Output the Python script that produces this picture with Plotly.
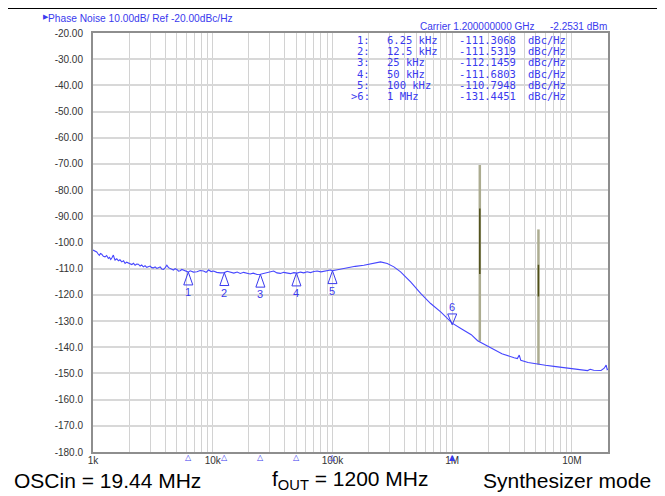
import numpy as np
import plotly.graph_objects as go

# ---------------- data ----------------
freq_hz = [1000, 1040, 1074, 1100, 1129, 1155, 1183, 1220, 1260, 1300, 1343, 1375, 1406, 1440,
           1479, 1505, 1528, 1580, 1628, 1680, 1738, 1800, 1853, 1910, 1974, 2040, 2108, 2180,
           2246, 2320, 2393, 2474, 2550, 2636, 2720, 2814, 2900, 2999, 3100, 3196, 3300, 3412,
           3520, 3637, 3750, 3876, 4000, 4137, 4270, 4410, 4550, 4699, 4850, 5017, 5180, 5346,
           5520, 5696, 5880, 6081, 6250, 6481, 6900, 7376, 7850, 8375, 8800, 9226, 9700, 10155,
           10800, 11555, 12500, 13200, 14010, 15000, 16000, 16990, 18100, 19330, 20500, 21800,
           23440, 25000, 26600, 28420, 30200, 32270, 34400, 36720, 39100, 41780, 44500, 47500,
           50660, 54000, 57600, 61420, 65500, 69900, 74470, 80000, 88000, 96230, 100000, 115000,
           132700, 155000, 182800, 215000, 252100, 286800, 325800, 370700, 449400, 545000,
           660700, 801000, 1000000, 1190000, 1442000, 1630000, 2100000, 2600000, 3290000,
           3500000, 3630000, 3740000, 4300000, 5160000, 6000000, 7070000, 8500000, 10000000,
           11500000, 13500000, 14200000, 15200000, 17500000, 18600000, 19300000, 19700000,
           20000000]
pn_dbc = [-102.9, -103.3, -103.6, -104.3, -104.9, -104.2, -104.5, -105.3, -105.5, -105.0, -106.1,
          -105.7, -106.5, -105.8, -104.8, -105.9, -106.7, -106.2, -107.0, -106.6, -107.4, -107.0,
          -108.0, -107.5, -107.8, -108.3, -108.4, -107.9, -108.7, -108.2, -108.3, -109.0, -108.6,
          -109.3, -108.9, -109.5, -109.2, -109.0, -109.6, -109.7, -109.3, -109.9, -109.6, -109.3,
          -110.1, -110.3, -109.7, -108.7, -109.6, -109.9, -110.4, -110.5, -110.0, -110.3, -110.9,
          -110.8, -110.3, -110.5, -111.0, -111.2, -111.3, -110.8, -111.3, -111.2, -110.7, -110.9,
          -111.4, -110.5, -111.1, -110.9, -111.4, -111.6, -111.5, -111.0, -111.2, -111.7, -111.3,
          -111.8, -111.4, -111.6, -112.0, -111.7, -112.2, -112.1, -111.8, -111.6, -111.2, -110.9,
          -111.6, -111.8, -111.4, -111.6, -111.9, -111.5, -111.7, -111.3, -111.6, -111.2, -111.5,
          -111.1, -110.9, -111.2, -110.7, -110.5, -110.8, -110.2, -109.5, -109.1, -108.7, -108.0,
          -107.4, -108.0, -109.3, -111.2, -115.0, -119.4, -123.3, -126.5, -130.8, -132.9, -135.2,
          -137.5, -140.2, -142.5, -144.0, -144.3, -143.0, -145.0, -145.8, -146.5, -146.9, -147.3,
          -147.8, -148.3, -148.6, -148.9, -148.4, -148.8, -148.9, -148.0, -146.8, -148.5, -148.3]

spur_freq_hz = [1.70e6, 5.25e6]
spur_top = [-70.4, -95.0]
spur_base = [-137.8, -146.6]
spur_dark_top = [-87.0, -108.5]
spur_dark_bottom = [-112.0, -120.6]

marker_num = ["1", "2", "3", "4", "5", "6"]
marker_freq_hz = [6250, 12500, 25000, 50000, 100000, 1000000]
marker_freq_label = ["6.25 kHz", "12.5 kHz", "25 kHz", "50 kHz", "100 kHz", "1 MHz"]
marker_val = [-111.3068, -111.5319, -112.1459, -111.6803, -110.7948, -131.4451]
active_marker = 5

y_ticks = list(range(-180, -19, 10))
x_decades = [1e3, 1e4, 1e5, 1e6, 1e7]
x_decade_labels = ["1k", "10k", "100k", "1M", "10M"]

header_text = "Phase Noise 10.00dB/ Ref -20.00dBc/Hz"
carrier_text = "Carrier 1.200000000 GHz"
carrier_power = "-2.2531 dBm"
bottom_texts = ["OSCin = 19.44 MHz", "f<sub>OUT</sub> = 1200 MHz", "Synthesizer mode"]

# ---------------- styling / geometry ----------------
BLUE = "#4646ff"
TXT_BLUE = "#3a3aee"
OFF = 8                      # page offset of the figure (body margin)
W, H = 665 - OFF, 496 - OFF
PLOT_X0, PLOT_X1, PLOT_Y0, PLOT_Y1 = 93, 608, 33, 452   # reference pixel frame
L, T = PLOT_X0 - OFF, PLOT_Y0 - OFF
R, B = W - (PLOT_X1 - OFF), H - (PLOT_Y1 - OFF)
PW, PH = W - L - R, H - T - B


def px2paper_x(px):
    return (px - PLOT_X0) / PW


def px2paper_y(py):
    return (PLOT_Y1 - py) / PH


fig = go.Figure()

# spurs
sx, sy, dx, dy = [], [], [], []
for f, t, b, dt, db in zip(spur_freq_hz, spur_top, spur_base, spur_dark_top, spur_dark_bottom):
    sx += [f, f, None]
    sy += [b, t, None]
    dx += [f, f, None]
    dy += [db, dt, None]
fig.add_trace(go.Scatter(x=sx, y=sy, mode="lines", line=dict(color="#acac90", width=2.5),
                         hoverinfo="skip", showlegend=False))
fig.add_trace(go.Scatter(x=dx, y=dy, mode="lines", line=dict(color="#4f4f18", width=1.5),
                         hoverinfo="skip", showlegend=False))

# phase noise trace
fig.add_trace(go.Scatter(x=freq_hz, y=pn_dbc, mode="lines", line=dict(color=BLUE, width=1.1),
                         showlegend=False))

# marker triangles on the trace
hw = 0.0377   # half width in decades (style)
th = 4.9      # triangle height in dB (style)
tx, ty = [], []
annotations = []
for i, (n, f, v) in enumerate(zip(marker_num, marker_freq_hz, marker_val)):
    lf = np.log10(f)
    if i == active_marker:
        pts = [(lf - hw, v + th * 0.85), (lf, v), (lf + hw, v + th * 0.85), (lf - hw, v + th * 0.85)]
        ly = v + 6.8
    else:
        pts = [(lf - hw, v - th), (lf, v), (lf + hw, v - th), (lf - hw, v - th)]
        ly = v - 7.7
    for a, b in pts:
        tx.append(10 ** a)
        ty.append(b)
    tx.append(None)
    ty.append(None)
    annotations.append(dict(x=lf, y=ly, xref="x", yref="y", text=n, showarrow=False,
                            font=dict(family="Liberation Sans", size=11, color=TXT_BLUE),
                            xanchor="center", yanchor="middle"))
    # small marker indicator along the bottom axis
    annotations.append(dict(x=lf, y=px2paper_y(452), xref="x", yref="paper",
                            text="▲" if i == active_marker else "△", showarrow=False,
                            xanchor="center", yanchor="top", borderpad=0,
                            font=dict(family="DejaVu Sans", size=8, color=TXT_BLUE)))
fig.add_trace(go.Scatter(x=tx, y=ty, mode="lines", line=dict(color=TXT_BLUE, width=1),
                         hoverinfo="skip", showlegend=False))

# reference level indicator
fig.add_trace(go.Scatter(x=[10 ** (np.log10(x_decades[0]) - 0.022)], y=[y_ticks[-1]], mode="markers",
                         marker=dict(symbol="triangle-right", size=7, color=TXT_BLUE),
                         cliponaxis=False, hoverinfo="skip", showlegend=False))

# header texts
annotations.append(dict(x=px2paper_x(41), y=px2paper_y(17), xref="paper", yref="paper", text="▶",
                        showarrow=False, xanchor="left", yanchor="middle",
                        font=dict(family="DejaVu Sans", size=7, color=TXT_BLUE)))
annotations.append(dict(x=px2paper_x(46), y=px2paper_y(19), xref="paper", yref="paper", text=header_text,
                        showarrow=False, xanchor="left", yanchor="middle",
                        font=dict(family="Liberation Sans", size=10.2, color=TXT_BLUE)))
annotations.append(dict(x=px2paper_x(418), y=px2paper_y(27), xref="paper", yref="paper", text=carrier_text,
                        showarrow=False, xanchor="left", yanchor="middle",
                        font=dict(family="Liberation Sans", size=10, color=TXT_BLUE)))
annotations.append(dict(x=px2paper_x(609), y=px2paper_y(27), xref="paper", yref="paper", text=carrier_power,
                        showarrow=False, xanchor="right", yanchor="middle",
                        font=dict(family="Liberation Sans", size=10, color=TXT_BLUE)))

# marker table (columns placed at the reference's column positions)
col_px = [371, 386, 458, 527]
mono = dict(family="DejaVu Sans Mono", size=10.5, color=TXT_BLUE)
for i, (n, fl, v) in enumerate(zip(marker_num, marker_freq_label, marker_val)):
    yc = px2paper_y(40 + 11.25 * i)
    cells = [((">" if i == active_marker else "") + n + ":", "right"),
             (fl, "left"), (f"{v:.4f}", "left"), ("dBc/Hz", "left")]
    for (txt, anc), cx in zip(cells, col_px):
        annotations.append(dict(x=px2paper_x(cx), y=yc, xref="paper", yref="paper",
                                text=txt.replace(" ", "\u00a0"), showarrow=False, xanchor=anc,
                                yanchor="middle", borderpad=0, font=mono))

# bottom texts
bottom_pos = [(12, "left"), (270, "left"), (653, "right")]
for t, (px, anc) in zip(bottom_texts, bottom_pos):
    annotations.append(dict(x=px2paper_x(px), y=px2paper_y(480), xref="paper", yref="paper", text=t,
                            showarrow=False, xanchor=anc, yanchor="middle",
                            font=dict(family="Liberation Sans", size=21, color="black")))

# x grid ticks at every 1..9 multiple
xtickvals, xticktext = [], []
for d, lab in zip(x_decades, x_decade_labels):
    for m in range(1, 10):
        v = m * d
        if v <= 2e7:
            xtickvals.append(v)
            xticktext.append(lab if m == 1 else "")

yticktext = [f"{v:.2f}" if v > -100 else f"{v:.1f}" for v in y_ticks]

fig.update_layout(
    width=W, height=H,
    margin=dict(l=L, r=R, t=T, b=B, pad=0),
    paper_bgcolor="white", plot_bgcolor="white",
    annotations=annotations,
    xaxis=dict(type="log", range=[3, np.log10(2e7)], tickvals=xtickvals, ticktext=xticktext,
               showgrid=True, gridcolor="#d2d2d2", gridwidth=1, showline=True, mirror=True,
               linecolor="#8e8e8e", linewidth=2, ticks="", zeroline=False, ticklabelstandoff=-2,
               tickfont=dict(family="Liberation Sans", size=10, color="#333333")),
    yaxis=dict(range=[-180, -20], tickvals=y_ticks, ticktext=yticktext, showgrid=True,
               gridcolor="#d8d8d8", gridwidth=2, showline=True, mirror=True, linecolor="#8e8e8e",
               linewidth=2, ticks="", zeroline=False, ticklabelstandoff=6,
               tickfont=dict(family="Liberation Sans", size=10, color="#333333")),
    shapes=[
        dict(type="line", xref="paper", yref="paper", x0=px2paper_x(0), x1=px2paper_x(661),
             y0=px2paper_y(8), y1=px2paper_y(8), line=dict(color="black", width=2)),
        dict(type="line", xref="paper", yref="paper", x0=px2paper_x(660), x1=px2paper_x(660),
             y0=px2paper_y(8), y1=px2paper_y(497), line=dict(color="black", width=2)),
    ],
)

fig.write_html("out.html")
